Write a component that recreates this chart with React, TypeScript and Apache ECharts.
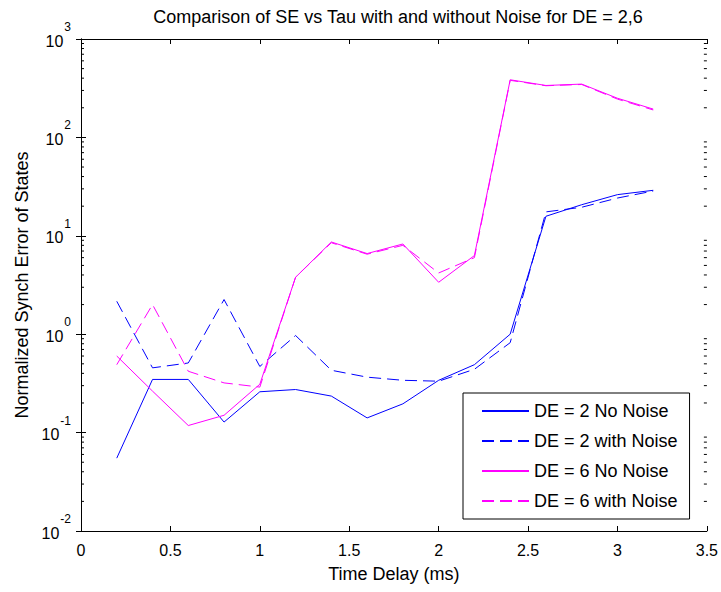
import React, { useEffect, useRef } from "react";
import * as echarts from "echarts";

const tau = [0.2, 0.4, 0.6, 0.8, 1.0, 1.2, 1.4, 1.6, 1.8, 2.0, 2.2, 2.4, 2.6, 2.8, 3.0, 3.2];
const de2NoNoise = [0.055, 0.347, 0.347, 0.128, 0.26, 0.274, 0.235, 0.141, 0.196, 0.34, 0.49, 1.0, 15.8, 20.7, 26.2, 29];
const de2Noise = [2.16, 0.455, 0.51, 2.25, 0.47, 0.97, 0.43, 0.366, 0.34, 0.333, 0.44, 0.82, 17.5, 19.5, 24.2, 28.5];
const de6NoNoise = [0.6, 0.264, 0.118, 0.15, 0.31, 3.79, 8.65, 6.6, 8.26, 3.37, 6.3, 385, 337, 348, 250, 194];
const de6Noise = [0.49, 2.0, 0.42, 0.32, 0.29, 3.8, 8.5, 6.5, 8.0, 4.19, 6.0, 380, 335, 345, 245, 190];

const seriesNames = ["DE = 2 No Noise", "DE = 2 with Noise", "DE = 6 No Noise", "DE = 6 with Noise"];
const decades = [0.01, 0.1, 1, 10, 100];

const FONT = "Liberation Sans, Arial, sans-serif";

export default function App() {
  const ref = useRef<HTMLDivElement>(null);
  useEffect(() => {
    if (!ref.current) return;
    const chart = echarts.init(ref.current, null, { renderer: "svg" });
    const minorVals: number[] = [];
    decades.forEach((d) => {
      for (let k = 2; k <= 9; k++) minorVals.push(d * k);
    });
    const mk = (ys: number[]) => tau.map((t, i) => [t, ys[i]]);
    const lineSeries = (name: string, ys: number[], color: string, dashed: boolean) => ({
      name,
      type: "line",
      data: mk(ys),
      symbol: "none",
      lineStyle: { color, width: 1, type: dashed ? [12, 6] : "solid" },
      itemStyle: { color },
      xAxisIndex: 0,
      yAxisIndex: 0,
    });
    const option: any = {
      animation: false,
      backgroundColor: "#fff",
      textStyle: { fontFamily: FONT },
      title: {
        text: "Comparison of SE vs Tau with and without Noise for DE = 2,6",
        left: 393,
        textAlign: "center",
        top: 3,
        textStyle: { fontFamily: FONT, fontSize: 18, fontWeight: "normal", color: "#000" },
      },
      grid: { left: 81, right: 13, top: 39, bottom: 61, containLabel: false },
      legend: {
        orient: "vertical",
        left: 463,
        top: 393,
        data: seriesNames,
        borderColor: "#000",
        borderWidth: 1,
        padding: [9, 12, 9, 18],
        itemWidth: 47,
        itemHeight: 18,
        itemGap: 12,
        backgroundColor: "#fff",
        itemStyle: { color: "transparent", borderWidth: 0, opacity: 0 },
        textStyle: { fontFamily: FONT, fontSize: 18, lineHeight: 18, color: "#000" },
      },
      xAxis: [
        {
          type: "value",
          min: 0,
          max: 3.5,
          interval: 0.5,
          name: "Time Delay (ms)",
          nameLocation: "middle",
          nameGap: 34,
          nameTextStyle: { fontFamily: FONT, fontSize: 18, color: "#000" },
          axisLine: { lineStyle: { color: "#000", width: 1 } },
          axisTick: { inside: true, length: 5, lineStyle: { color: "#000" } },
          axisLabel: { fontFamily: FONT, fontSize: 16, color: "#000", margin: 11 },
          splitLine: { show: false },
        },
        {
          type: "value",
          position: "top",
          min: 0,
          max: 3.5,
          interval: 0.5,
          axisLine: { lineStyle: { color: "#000", width: 1 } },
          axisTick: { inside: true, length: 5, lineStyle: { color: "#000" } },
          axisLabel: { show: false },
          splitLine: { show: false },
        },
      ],
      yAxis: [
        {
          type: "log",
          logBase: 10,
          min: 0.01,
          max: 1000,
          name: "Normalized Synch Error of States",
          nameLocation: "middle",
          nameGap: 45,
          nameTextStyle: { fontFamily: FONT, fontSize: 18, color: "#000" },
          axisLine: { show: true, lineStyle: { color: "#000", width: 1 } },
          axisTick: { inside: true, length: 5, lineStyle: { color: "#000" } },
          axisLabel: {
            margin: 10,
            formatter: (v: number) => `{b|10}{e|${Math.round(Math.log10(v))}}`,
            rich: {
              b: { fontFamily: FONT, fontSize: 16, color: "#000", padding: [4, 0, 0, 0] },
              e: { fontFamily: FONT, fontSize: 12, color: "#000", padding: [0, 0, 24, 1] },
            },
          },
          splitLine: { show: false },
        },
        {
          type: "log",
          logBase: 10,
          min: 0.01,
          max: 1000,
          position: "right",
          axisLine: { show: true, lineStyle: { color: "#000", width: 1 } },
          axisTick: { inside: true, length: 5, lineStyle: { color: "#000" } },
          axisLabel: { show: false },
          splitLine: { show: false },
        },
      ],
      series: [
        {
          name: "minorTicks",
          type: "custom",
          xAxisIndex: 0,
          yAxisIndex: 0,
          silent: true,
          data: minorVals.map((v) => [v]),
          encode: { y: 0 },
          renderItem: (params: any, api: any) => {
            const v = api.value(0);
            const pl = api.coord([0, v]);
            const pr = api.coord([3.5, v]);
            return {
              type: "group",
              children: [
                { type: "line", shape: { x1: pl[0], y1: pl[1], x2: pl[0] + 3, y2: pl[1] }, style: { stroke: "#000", lineWidth: 1 } },
                { type: "line", shape: { x1: pr[0], y1: pr[1], x2: pr[0] - 3, y2: pr[1] }, style: { stroke: "#000", lineWidth: 1 } },
              ],
            };
          },
        },
        lineSeries(seriesNames[0], de2NoNoise, "#0000ff", false),
        lineSeries(seriesNames[1], de2Noise, "#0000ff", true),
        lineSeries(seriesNames[2], de6NoNoise, "#ff00ff", false),
        lineSeries(seriesNames[3], de6Noise, "#ff00ff", true),
      ],
    };
    chart.setOption(option);
    return () => chart.dispose();
  }, []);
  return (
    <div
      ref={ref}
      style={{ position: "absolute", left: 0, top: 0, width: 721, height: 592, background: "#fff" }}
    />
  );
}
